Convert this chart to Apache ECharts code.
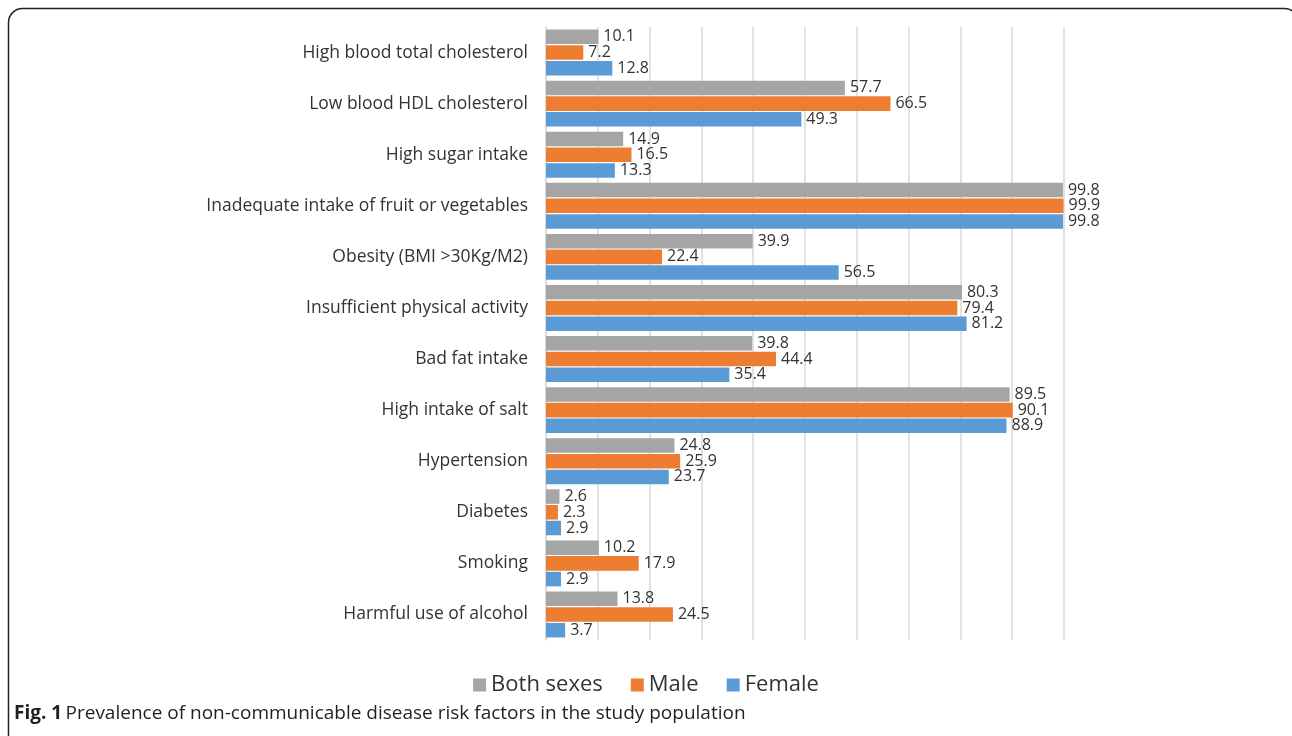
<!DOCTYPE html>
<html>
<head>
<meta charset="utf-8">
<script src="https://cdn.jsdelivr.net/npm/echarts@6/dist/echarts.min.js"></script>
<style>html,body{margin:0;padding:0;background:#fff;}#chart{width:1292px;height:736px;}</style>
</head>
<body>
<div id="chart"></div>
<script>
const categories = [
  'High blood total cholesterol',
  'Low blood HDL cholesterol',
  'High sugar intake',
  'Inadequate intake of fruit or vegetables',
  'Obesity (BMI >30Kg/M2)',
  'Insufficient physical activity',
  'Bad fat intake',
  'High intake of salt',
  'Hypertension',
  'Diabetes',
  'Smoking',
  'Harmful use of alcohol'
];
const bothSexes = [10.1, 57.7, 14.9, 99.8, 39.9, 80.3, 39.8, 89.5, 24.8, 2.6, 10.2, 13.8];
const male      = [7.2, 66.5, 16.5, 99.9, 22.4, 79.4, 44.4, 90.1, 25.9, 2.3, 17.9, 24.5];
const female    = [12.8, 49.3, 13.3, 99.8, 56.5, 81.2, 35.4, 88.9, 23.7, 2.9, 2.9, 3.7];
const seriesNames = ['Both sexes', 'Male', 'Female'];
const colors = ['#A5A5A5', '#ED7D31', '#5B9BD5'];

const FONT = '"Open Sans", sans-serif';
const chart = echarts.init(document.getElementById('chart'));
const lbl = {show: true, position: 'right', distance: 5, color: '#333', fontSize: 16, fontFamily: FONT};
function mk(name, data, color) {
  return {name, type: 'bar', data, itemStyle: {color}, label: lbl, barGap: '8%', barCategoryGap: '10%'};
}
chart.setOption({
  animation: false,
  textStyle: {fontFamily: FONT},
  grid: {left: 546, right: 228, top: 27, bottom: 96},
  legend: {
    data: seriesNames, bottom: 35, left: 'center', itemWidth: 13, itemHeight: 13, itemGap: 28,
    icon: 'rect',
    textStyle: {fontSize: 22, color: '#333', fontFamily: FONT}
  },
  xAxis: {
    type: 'value', min: 0, max: 100, interval: 10,
    axisLabel: {show: false}, axisLine: {show: false}, axisTick: {show: false},
    splitLine: {lineStyle: {color: '#D9D9D9', width: 1.5}}
  },
  yAxis: {
    type: 'category', data: categories, inverse: true,
    axisLine: {show: true, lineStyle: {color: '#D9D9D9', width: 1.5}},
    axisTick: {show: false},
    axisLabel: {color: '#333', fontSize: 17.5, margin: 18, fontFamily: FONT}
  },
  series: [mk(seriesNames[0], bothSexes, colors[0]), mk(seriesNames[1], male, colors[1]), mk(seriesNames[2], female, colors[2])],
  graphic: [
    {type: 'rect', shape: {x: 8.5, y: 8.5, width: 1290, height: 760, r: 14}, style: {fill: 'none', stroke: '#222', lineWidth: 1.5}, silent: true},
    {type: 'text', left: 14, top: 704, style: {
      text: '{b|Fig. 1} {n|Prevalence of non-communicable disease risk factors in the study population}',
      rich: {
        b: {fontWeight: 'bold', fontSize: 19, fill: '#231F20', fontFamily: FONT},
        n: {fontSize: 19, fill: '#231F20', fontFamily: FONT}
      }
    }}
  ]
});
</script>
</body>
</html>
